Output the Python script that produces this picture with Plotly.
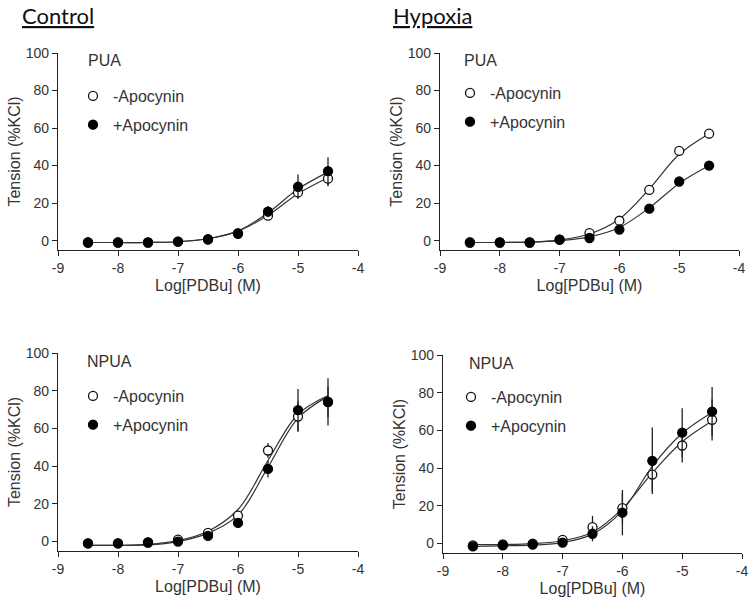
import plotly.graph_objects as go

W, H = 752, 606

# ---------------- data ----------------
DOSE = [-8.5, -8, -7.5, -7, -6.5, -6, -5.5, -5, -4.5]
X_TICKS = [-9, -8, -7, -6, -5, -4]
X_TICK_TEXT = ["-9", "-8", "-7", "-6", "-5", "-4"]
Y_TICKS = [0, 20, 40, 60, 80, 100]
X_TITLE = "Log[PDBu] (M)"
Y_TITLE = "Tension (%KCl)"
SERIES_NAMES = ["-Apocynin", "+Apocynin"]
GROUP_TITLES = ["Control", "Hypoxia"]
PANEL_LABELS = ["PUA", "PUA", "NPUA", "NPUA"]

# Control, PUA
ctrl_pua_minus = [-1, -1, -1, -0.5, 0.5, 4.0, 13.3, 25.7, 33.0]
ctrl_pua_minus_err = [0.5, 0.5, 0.5, 0.5, 0.5, 1.0, 1.5, 3.0, 4.0]
ctrl_pua_plus = [-1, -1, -1, -0.5, 0.8, 3.6, 15.5, 28.7, 37.0]
ctrl_pua_plus_err = [0.5, 0.5, 0.5, 0.5, 0.5, 1.0, 3.0, 6.5, 7.5]
ctrl_pua_minus_fit = [-1, -1, -1, -0.6, 1.0, 5.0, 13.5, 25.0, 33.5]
ctrl_pua_plus_fit = [-1, -1, -1, -0.6, 1.0, 5.2, 14.8, 27.5, 36.5]

# Hypoxia, PUA
hyp_pua_minus = [-1, -1, -1, 0.5, 4.0, 10.6, 27.0, 47.8, 57.0]
hyp_pua_minus_err = [0.5, 0.5, 0.5, 0.5, 1.0, 1.5, 1.5, 2.0, 2.5]
hyp_pua_plus = [-1, -1, -1, 0.5, 1.4, 5.9, 17.0, 31.5, 40.0]
hyp_pua_plus_err = [0.5, 0.5, 0.5, 0.5, 0.8, 1.0, 1.0, 1.5, 1.5]
hyp_pua_minus_fit = [-1, -1, -0.8, 0.3, 3.5, 11.5, 27.5, 46.0, 57.0]
hyp_pua_plus_fit = [-1, -1, -0.8, 0.0, 2.0, 7.0, 17.5, 30.5, 40.0]

# Control, NPUA
ctrl_npua_minus = [-1, -1, -0.5, 1.0, 4.6, 13.8, 48.3, 66.3, 74.0]
ctrl_npua_minus_err = [0.5, 0.5, 0.5, 0.5, 1.0, 2.0, 4.0, 8.0, 8.0]
ctrl_npua_plus = [-1, -1, -0.5, 0.0, 3.0, 9.9, 38.5, 69.7, 74.1]
ctrl_npua_plus_err = [0.5, 0.5, 0.5, 0.5, 1.0, 2.5, 4.5, 11.2, 12.5]
ctrl_npua_minus_fit = [-2.0, -2.0, -1.5, 0.5, 5.5, 17.0, 43.0, 67.5, 77.5]
ctrl_npua_plus_fit = [-2.0, -2.0, -1.8, 0.0, 4.5, 14.0, 39.5, 65.5, 77.0]

# Hypoxia, NPUA
hyp_npua_minus = [-1, -0.5, 0.0, 2.0, 8.7, 18.8, 36.6, 52.0, 65.6]
hyp_npua_minus_err = [0.5, 0.5, 0.5, 1.0, 6.0, 8.0, 9.0, 9.0, 11.0]
hyp_npua_plus = [-1.5, -1.0, -0.5, 0.5, 5.2, 16.4, 43.9, 58.8, 70.0]
hyp_npua_plus_err = [0.5, 0.5, 0.5, 0.5, 4.0, 12.0, 17.6, 13.0, 13.0]
hyp_npua_minus_fit = [-0.5, -0.5, 0.0, 1.5, 6.0, 18.5, 37.5, 54.0, 65.0]
hyp_npua_plus_fit = [-1.5, -1.2, -0.8, 0.5, 5.0, 17.5, 41.0, 58.5, 69.5]

panels = [
    dict(minus=ctrl_pua_minus, minus_err=ctrl_pua_minus_err, plus=ctrl_pua_plus,
         plus_err=ctrl_pua_plus_err, minus_fit=ctrl_pua_minus_fit, plus_fit=ctrl_pua_plus_fit),
    dict(minus=hyp_pua_minus, minus_err=hyp_pua_minus_err, plus=hyp_pua_plus,
         plus_err=hyp_pua_plus_err, minus_fit=hyp_pua_minus_fit, plus_fit=hyp_pua_plus_fit),
    dict(minus=ctrl_npua_minus, minus_err=ctrl_npua_minus_err, plus=ctrl_npua_plus,
         plus_err=ctrl_npua_plus_err, minus_fit=ctrl_npua_minus_fit, plus_fit=ctrl_npua_plus_fit),
    dict(minus=hyp_npua_minus, minus_err=hyp_npua_minus_err, plus=hyp_npua_plus,
         plus_err=hyp_npua_plus_err, minus_fit=hyp_npua_minus_fit, plus_fit=hyp_npua_plus_fit),
]

# ---------------- layout geometry (pixels) ----------------
boxes = [(58, 358, 53, 250), (440, 739, 53, 250), (58, 358, 353, 551), (443, 742, 355, 553)]
legend_pos = [(73, 79), (450, 76), (73, 379), (451, 380)]
label_pos = [(86, 61), (462, 61), (85, 361), (467, 363)]

FONT = "Arial"
TXT = "#333333"
AX = "#222222"

fig = go.Figure()
layout = dict(
    template="none",
    width=W, height=H,
    margin=dict(l=0, r=0, t=0, b=0, autoexpand=False),
    paper_bgcolor="white", plot_bgcolor="white",
    font=dict(family=FONT, color=TXT, size=14),
    annotations=[],
)

for i, (p, box) in enumerate(zip(panels, boxes), start=1):
    xa = "x" if i == 1 else f"x{i}"
    ya = "y" if i == 1 else f"y{i}"
    lg = "legend" if i == 1 else f"legend{i}"
    x0, x1, y0, y1 = box

    for key in ("minus_fit", "plus_fit"):
        fig.add_trace(go.Scatter(
            x=DOSE, y=p[key], mode="lines",
            line=dict(color="#333333", width=1.2, shape="spline", smoothing=1.0),
            xaxis=xa, yaxis=ya, showlegend=False, hoverinfo="skip"))

    fig.add_trace(go.Scatter(
        x=DOSE, y=p["minus"], mode="markers", name=SERIES_NAMES[0],
        marker=dict(symbol="circle", size=9, color="white", line=dict(color="#111111", width=1.3)),
        error_y=dict(type="data", array=p["minus_err"], width=0, thickness=1.3, color="#222222"),
        xaxis=xa, yaxis=ya, legend=lg, legendgroup=f"m{i}"))
    fig.add_trace(go.Scatter(
        x=DOSE, y=p["plus"], mode="markers", name=SERIES_NAMES[1],
        marker=dict(symbol="circle", size=9, color="black", line=dict(color="black", width=1.3)),
        error_y=dict(type="data", array=p["plus_err"], width=0, thickness=1.3, color="#222222"),
        xaxis=xa, yaxis=ya, legend=lg, legendgroup=f"p{i}"))

    axis_common = dict(showgrid=False, zeroline=False, showline=True, linecolor=AX, linewidth=1.3,
                       ticks="outside", ticklen=5, tickwidth=1.3, tickcolor=AX, automargin=False,
                       tickfont=dict(family=FONT, size=14, color=TXT))
    layout["xaxis" if i == 1 else f"xaxis{i}"] = dict(
        axis_common, domain=[x0 / W, x1 / W], range=[-9, -4],
        tickmode="array", tickvals=X_TICKS, ticktext=X_TICK_TEXT,
        anchor=ya, title=dict(text=X_TITLE, font=dict(family=FONT, size=16, color=TXT), standoff=4))
    layout["yaxis" if i == 1 else f"yaxis{i}"] = dict(
        axis_common, domain=[1 - y1 / H, 1 - y0 / H], range=[-5, 100],
        tickmode="array", tickvals=Y_TICKS,
        anchor=xa, title=dict(text=Y_TITLE, font=dict(family=FONT, size=16, color=TXT), standoff=1))

    lx, ly = legend_pos[i - 1]
    layout[lg] = dict(x=lx / W, y=1 - ly / H, xanchor="left", yanchor="top",
                      bgcolor="rgba(0,0,0,0)", borderwidth=0, tracegroupgap=5,
                      itemwidth=30, font=dict(family=FONT, size=16, color=TXT))

    tx, ty = label_pos[i - 1]
    layout["annotations"].append(dict(
        text=PANEL_LABELS[i - 1], x=tx / W, y=1 - ty / H, xref="paper", yref="paper",
        xanchor="left", yanchor="middle", showarrow=False,
        font=dict(family=FONT, size=16, color=TXT)))

for t, tx in zip(GROUP_TITLES, [20, 391]):
    layout["annotations"].append(dict(
        text=f"<u>{t}</u>", x=tx / W, y=1 - 15 / H, xref="paper", yref="paper",
        xanchor="left", yanchor="middle", showarrow=False,
        font=dict(family="Lato, Open Sans, sans-serif", size=22, color="#111111")))

fig.update_layout(**layout)
fig.write_html(
    "out.html",
    config={"displayModeBar": False},
    post_script="document.body.style.margin='0';document.body.style.overflow='hidden';",
)
